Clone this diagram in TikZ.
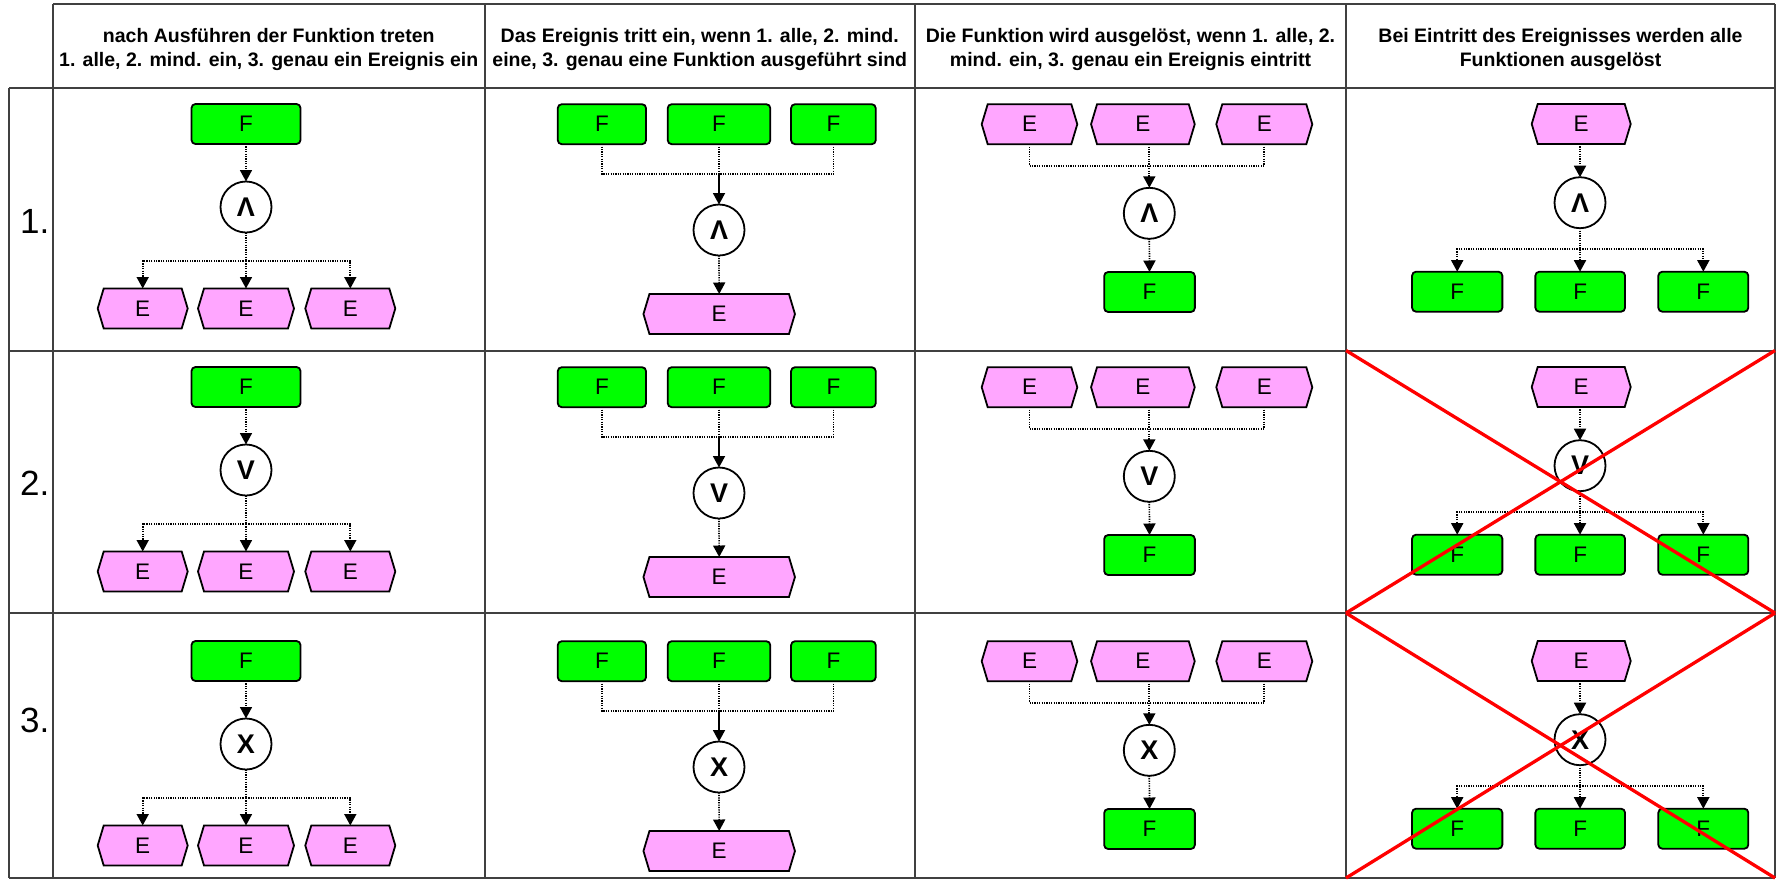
\documentclass[tikz,border=0pt]{standalone}
\usepackage{fontspec}
\setmainfont{Liberation Sans}
\usetikzlibrary{arrows.meta}
\definecolor{fgreen}{HTML}{00FF00}
\definecolor{epink}{HTML}{FFA6FF}
\definecolor{gridgray}{HTML}{404040}

\newdimen\hexXa \newdimen\hexXb \newdimen\hexYa \newdimen\hexYb \newdimen\hexYm
\newdimen\hextip \hextip=6pt
\makeatletter
\pgfdeclareshape{evhex}{%
  \inheritsavedanchors[from=rectangle]%
  \inheritanchorborder[from=rectangle]%
  \inheritanchor[from=rectangle]{center}%
  \inheritanchor[from=rectangle]{north}%
  \inheritanchor[from=rectangle]{south}%
  \inheritanchor[from=rectangle]{east}%
  \inheritanchor[from=rectangle]{west}%
  \inheritanchor[from=rectangle]{north east}%
  \inheritanchor[from=rectangle]{north west}%
  \inheritanchor[from=rectangle]{south east}%
  \inheritanchor[from=rectangle]{south west}%
  \inheritanchor[from=rectangle]{base}%
  \inheritanchor[from=rectangle]{mid}%
  \backgroundpath{%
    \southwest \hexXa=\pgf@x \hexYa=\pgf@y
    \northeast \hexXb=\pgf@x \hexYb=\pgf@y
    \hexYm=\hexYa \advance\hexYm by \hexYb \divide\hexYm by 2
    \pgfpathmoveto{\pgfqpoint{\hexXa}{\hexYm}}%
    \pgfpathlineto{\pgfqpoint{\dimexpr\hexXa+\hextip\relax}{\hexYb}}%
    \pgfpathlineto{\pgfqpoint{\dimexpr\hexXb-\hextip\relax}{\hexYb}}%
    \pgfpathlineto{\pgfqpoint{\hexXb}{\hexYm}}%
    \pgfpathlineto{\pgfqpoint{\dimexpr\hexXb-\hextip\relax}{\hexYa}}%
    \pgfpathlineto{\pgfqpoint{\dimexpr\hexXa+\hextip\relax}{\hexYa}}%
    \pgfpathclose
  }%
}
\makeatother

\tikzset{
  gridline/.style={draw=gridgray, line width=2pt},
  fnbox/.style={draw=black, fill=fgreen, rounded corners=4pt, line width=1.8pt,
    minimum height=40pt, inner sep=0pt, outer sep=0pt, font=\fontsize{22.5}{26}\selectfont},
  evbox/.style={evhex, draw=black, fill=epink, line width=1.8pt,
    minimum height=40pt, inner sep=0pt, outer sep=0pt, font=\fontsize{22.5}{26}\selectfont},
  gate/.style={circle, draw=black, fill=white, line width=1.8pt, minimum size=51pt,
    inner sep=0pt, outer sep=0pt, font=\fontsize{27}{30}\selectfont\bfseries},
  dotl/.style={line width=1.7pt, dash pattern=on 1.2pt off 1.2pt},
  soll/.style={line width=1.8pt},
  arr/.style={-{Triangle[length=11.5pt,width=12pt]}},
  hdr/.style={font=\fontsize{19.5}{23.5}\selectfont\bfseries, inner sep=0pt, anchor=base},
  rowlbl/.style={font=\fontsize{35}{42}\selectfont, inner sep=0pt, anchor=base east},
  cross/.style={draw=red, line width=3.3pt},
}

% column type 1: F -> gate -> 3 E
\newcommand\colOne[3]{%
  \node[fnbox, minimum width=109pt] (#1f) at (246,124+#2) {F};
  \node[gate] (#1c) at (246,207+#2) {#3};
  \node[evbox, minimum width=90pt] (#1e1) at (142.7,308.5+#2) {E};
  \node[evbox, minimum width=96pt] (#1e2) at (246,308.5+#2) {E};
  \node[evbox, minimum width=90pt] (#1e3) at (350.3,308.5+#2) {E};
  \coordinate (#1b) at (246,261+#2);
  \draw[dotl,arr] (#1f.south) -- (#1c.north);
  \draw[dotl] (#1c.south) -- (#1b);
  \draw[dotl,arr] (#1b) -| (#1e1.north);
  \draw[dotl,arr] (#1b) -- (#1b |- #1e2.north);
  \draw[dotl,arr] (#1b) -| (#1e3.north);
}
% column type 2: 3 F -> gate -> E
\newcommand\colTwo[3]{%
  \node[fnbox, minimum width=88.3pt] (#1f1) at (601.9,124.2+#2) {F};
  \node[fnbox, minimum width=102.6pt] (#1f2) at (719,124.2+#2) {F};
  \node[fnbox, minimum width=84.7pt] (#1f3) at (833.4,124.2+#2) {F};
  \coordinate (#1j) at (719,174+#2);
  \node[gate] (#1c) at (719,230+#2) {#3};
  \node[evbox, minimum width=151.5pt] (#1e) at (719.2,314+#2) {E};
  \draw[dotl] (#1f1.south) |- (#1j);
  \draw[dotl] (#1f3.south) |- (#1j);
  \draw[dotl] (#1f2.south) -- (#1j);
  \draw[soll,arr] (#1j) -- (#1c.north);
  \draw[dotl,arr] (#1c.south) -- (#1e.north);
}
% column type 3: 3 E -> gate -> F
\newcommand\colThree[3]{%
  \node[evbox, minimum width=95.6pt] (#1e1) at (1029.5,124.2+#2) {E};
  \node[evbox, minimum width=103.7pt] (#1e2) at (1142.9,124.2+#2) {E};
  \node[evbox, minimum width=96pt] (#1e3) at (1264.3,124.2+#2) {E};
  \coordinate (#1j) at (1149.3,165.7+#2);
  \node[gate] (#1c) at (1149.3,213.3+#2) {#3};
  \node[fnbox, minimum width=90.7pt] (#1f) at (1149.5,292+#2) {F};
  \draw[dotl] (#1e1.south) |- (#1j);
  \draw[dotl] (#1e3.south) |- (#1j);
  \draw[dotl] (#1e2.south -| #1j) -- (#1j);
  \draw[dotl,arr] (#1j) -- (#1c.north);
  \draw[dotl,arr] (#1c.south) -- (#1f.north);
}
% column type 4: E -> gate -> 3 F
\newcommand\colFour[3]{%
  \node[evbox, minimum width=99pt] (#1e) at (1581.2,124+#2) {E};
  \node[gate] (#1c) at (1580,202.7+#2) {#3};
  \coordinate (#1b) at (1580,249.3+#2);
  \node[fnbox, minimum width=90.3pt] (#1f1) at (1457.2,291.7+#2) {F};
  \node[fnbox, minimum width=89.7pt] (#1f2) at (1580.2,291.7+#2) {F};
  \node[fnbox, minimum width=90pt] (#1f3) at (1703.3,291.7+#2) {F};
  \draw[dotl,arr] (#1e.south -| #1c) -- (#1c.north);
  \draw[dotl] (#1c.south) -- (#1b);
  \draw[dotl,arr] (#1b) -| (#1f1.north);
  \draw[dotl,arr] (#1b) -| (#1f3.north);
  \draw[dotl,arr] (#1b) -- (#1b |- #1f2.north);
}

\begin{document}
\begin{tikzpicture}[x=1pt,y=-1pt]
\useasboundingbox (0,0) rectangle (1776,879);
\fill[white] (0,0) rectangle (1776,879);

% grid
\draw[gridline] (53,4) -- (1775,4);
\draw[gridline] (9,87.5) -- (1775,87.5);
\draw[gridline] (9,350.5) -- (1775,350.5);
\draw[gridline] (9,613) -- (1775,613);
\draw[gridline] (9,878) -- (1775,878);
\draw[gridline] (9,87.5) -- (9,878);
\draw[gridline] (53,4) -- (53,878);
\draw[gridline] (484.5,4) -- (484.5,878);
\draw[gridline] (915,4) -- (915,878);
\draw[gridline] (1346,4) -- (1346,878);
\draw[gridline] (1775,4) -- (1775,878);

% headers
\node[hdr] (h1a) at (268.75,42.5) {nach Ausführen der Funktion treten};
\node[hdr] (h1b) at (268.75,66) {1. alle, 2. mind. ein, 3. genau ein Ereignis ein};
\node[hdr] (h2a) at (699.75,42.5) {Das Ereignis tritt ein, wenn 1. alle, 2. mind.};
\node[hdr] (h2b) at (699.75,66) {eine, 3. genau eine Funktion ausgeführt sind};
\node[hdr] (h3a) at (1130.5,42.5) {Die Funktion wird ausgelöst, wenn 1. alle, 2.};
\node[hdr] (h3b) at (1130.5,66) {mind. ein, 3. genau ein Ereignis eintritt};
\node[hdr] (h4a) at (1560.5,42.5) {Bei Eintritt des Ereignisses werden alle};
\node[hdr] (h4b) at (1560.5,66) {Funktionen ausgelöst};

% row labels
\node[rowlbl] (l1) at (49.5,233.3) {1.};
\node[rowlbl] (l2) at (49.5,495) {2.};
\node[rowlbl] (l3) at (49.5,732.3) {3.};

% diagrams
\colOne{pa}{0}{Λ}
\colOne{qa}{263}{V}
\colOne{ra}{537}{X}
\colTwo{pb}{0}{Λ}
\colTwo{qb}{263}{V}
\colTwo{rb}{537}{X}
\colThree{pc}{0}{Λ}
\colThree{qc}{263}{V}
\colThree{rc}{537}{X}
\colFour{pd}{0}{Λ}
\colFour{qd}{263}{V}
\colFour{rd}{537}{X}

% red crosses
\draw[cross] (1346,350.5) -- (1775,613);
\draw[cross] (1346,613) -- (1775,350.5);
\draw[cross] (1346,613) -- (1775,878);
\draw[cross] (1346,878) -- (1775,613);
\end{tikzpicture}
\end{document}
